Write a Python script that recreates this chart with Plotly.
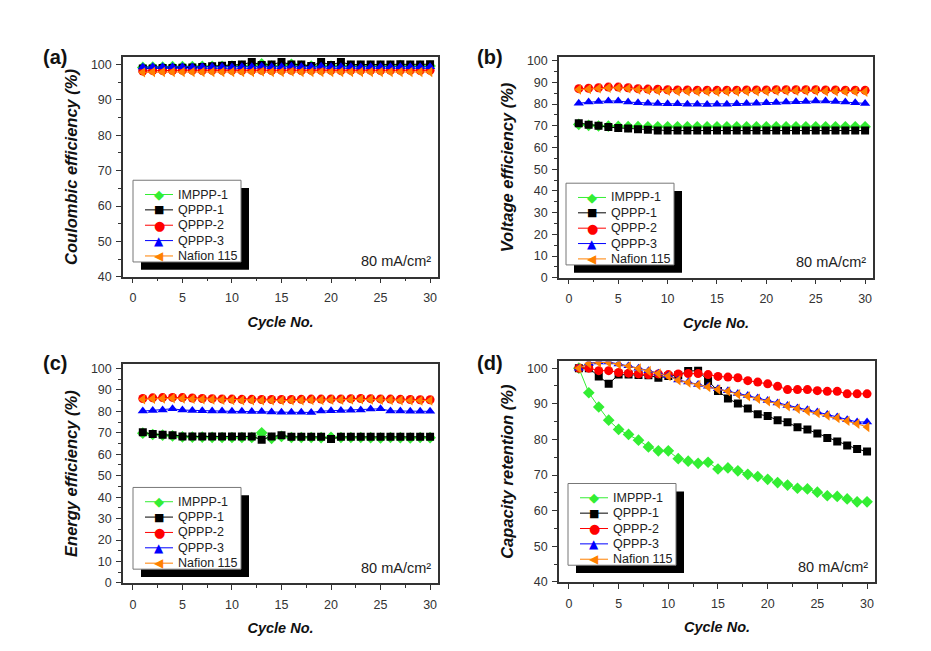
import plotly.graph_objects as go

cycles = list(range(1, 31))
series_names = ["IMPPP-1", "QPPP-1", "QPPP-2", "QPPP-3", "Nafion 115"]

# (a) Coulombic efficiency (%)
ce_imppp1 = [99.2, 99.3, 99.3, 99.4, 99.4, 99.4, 99.5, 99.5, 99.5, 99.6, 99.6, 99.6, 100.2, 99.6, 99.6,
             100.1, 99.6, 99.6, 99.6, 99.6, 99.6, 99.6, 99.6, 99.6, 99.6, 99.6, 99.7, 99.6, 99.6, 99.6]
ce_qppp1 = [98.9, 98.9, 99.0, 99.0, 99.1, 99.2, 99.3, 99.5, 99.7, 99.9, 100.0, 100.7, 99.9, 100.0, 100.7,
            100.0, 100.0, 99.6, 100.7, 99.9, 100.7, 100.0, 100.0, 100.0, 100.0, 100.0, 100.1, 100.0, 100.0, 100.1]
ce_qppp2 = [98.2, 98.3, 98.3, 98.3, 98.4, 98.4, 98.3, 98.4, 98.4, 98.4, 98.3, 98.4, 98.4, 98.3, 98.4,
            98.4, 98.3, 98.4, 98.4, 98.4, 98.3, 98.4, 98.4, 98.4, 98.3, 98.4, 98.4, 98.4, 98.3, 98.4]
ce_qppp3 = [99.3, 99.4, 99.4, 99.4, 99.4, 99.3, 99.4, 99.4, 99.4, 99.3, 99.4, 99.4, 99.5, 99.4, 99.4,
            99.5, 99.4, 99.4, 99.5, 99.4, 99.4, 99.4, 99.3, 99.4, 99.4, 99.4, 99.4, 99.4, 99.4, 99.4]
ce_nafion = [97.8, 97.9, 97.9, 97.9, 97.9, 97.9, 97.9, 97.9, 97.9, 97.9, 97.9, 97.9, 98.0, 97.9, 97.9,
             98.0, 97.9, 97.9, 97.9, 97.9, 97.9, 97.9, 97.9, 97.9, 97.9, 97.9, 97.9, 97.9, 97.9, 97.9]

# (b) Voltage efficiency (%)
ve_imppp1 = [70.6, 70.2, 69.9, 69.8, 69.7, 69.6, 69.6, 69.5, 69.5, 69.5, 69.5, 69.5, 69.5, 69.5, 69.5,
             69.5, 69.5, 69.5, 69.5, 69.5, 69.5, 69.5, 69.5, 69.5, 69.5, 69.5, 69.5, 69.5, 69.5, 69.5]
ve_qppp1 = [71.2, 70.5, 70.0, 69.4, 69.0, 68.7, 68.4, 68.2, 67.8, 67.8, 67.8, 67.8, 67.8, 67.8, 67.8,
            67.8, 67.8, 67.8, 67.8, 67.8, 67.8, 67.8, 67.8, 67.8, 67.8, 67.8, 67.8, 67.8, 67.8, 67.8]
ve_qppp2 = [87.1, 87.3, 87.5, 87.8, 87.8, 87.5, 87.1, 86.9, 86.8, 86.6, 86.5, 86.5, 86.4, 86.4, 86.3,
            86.4, 86.4, 86.5, 86.5, 86.5, 86.6, 86.6, 86.6, 86.6, 86.6, 86.5, 86.5, 86.4, 86.4, 86.3]
ve_qppp3 = [80.4, 80.9, 81.2, 81.4, 81.4, 80.9, 80.6, 80.4, 80.3, 80.1, 80.1, 79.9, 79.9, 79.8, 79.9,
            79.9, 80.1, 80.3, 80.4, 80.6, 80.7, 80.9, 81.1, 81.2, 81.4, 81.4, 81.2, 80.9, 80.6, 80.3]
ve_nafion = [86.7, 86.9, 87.2, 87.5, 87.5, 87.2, 86.7, 86.4, 86.2, 86.1, 85.9, 85.9, 85.8, 85.8, 85.7,
             85.8, 85.8, 85.9, 85.9, 85.9, 86.1, 86.1, 86.1, 86.1, 86.1, 85.9, 85.9, 85.8, 85.8, 85.7]

# (c) Energy efficiency (%)
ee_imppp1 = [69.8, 69.2, 68.9, 68.6, 68.1, 68.0, 68.0, 67.9, 67.8, 67.8, 67.8, 67.8, 70.0, 67.4, 68.3,
             67.8, 67.8, 67.8, 67.7, 67.9, 67.8, 67.8, 67.8, 67.7, 67.6, 67.8, 67.7, 67.6, 67.8, 67.7]
ee_qppp1 = [70.2, 69.4, 69.1, 68.8, 68.3, 68.3, 68.3, 68.3, 68.3, 68.3, 68.3, 68.3, 66.8, 68.3, 68.8,
            68.1, 68.1, 68.1, 68.1, 67.1, 68.1, 68.1, 68.1, 68.1, 68.1, 68.1, 68.1, 68.1, 68.1, 68.1]
ee_qppp2 = [86.0, 86.3, 86.4, 86.5, 86.4, 86.2, 86.0, 85.9, 85.8, 85.7, 85.6, 85.6, 85.5, 85.5, 85.5,
            85.5, 85.6, 85.7, 85.7, 85.8, 85.8, 85.9, 86.0, 85.9, 85.8, 85.7, 85.6, 85.5, 85.4, 85.4]
ee_qppp3 = [80.1, 80.4, 80.6, 81.2, 80.6, 80.4, 80.3, 80.2, 80.1, 80.0, 80.0, 79.9, 79.9, 79.7, 79.6,
            79.6, 79.6, 79.5, 80.1, 80.3, 80.4, 80.5, 80.6, 81.1, 81.2, 80.2, 80.1, 80.0, 80.0, 80.0]
ee_nafion = [85.6, 85.9, 86.0, 86.1, 86.0, 85.8, 85.6, 85.5, 85.4, 85.3, 85.2, 85.2, 85.1, 85.1, 85.1,
             85.1, 85.2, 85.3, 85.3, 85.4, 85.4, 85.5, 85.6, 85.5, 85.4, 85.3, 85.2, 85.1, 85.0, 85.0]

# (d) Capacity retention (%)
cr_imppp1 = [100.0, 93.1, 89.1, 85.4, 82.8, 81.4, 79.8, 77.9, 76.8, 76.8, 74.6, 73.9, 73.3, 73.6, 71.7,
             72.0, 71.2, 70.2, 69.6, 68.8, 67.9, 67.2, 66.3, 66.1, 65.2, 64.2, 64.0, 63.3, 62.5, 62.5]
cr_qppp1 = [100.0, 100.0, 97.7, 95.6, 98.2, 98.2, 98.1, 98.0, 97.3, 97.8, 98.0, 99.2, 99.3, 96.4, 93.6,
            91.5, 90.1, 88.7, 87.1, 86.6, 85.4, 84.8, 83.4, 82.8, 81.7, 80.4, 79.4, 78.3, 77.3, 76.6]
cr_qppp2 = [100.0, 100.0, 99.3, 99.3, 98.8, 98.6, 98.4, 98.2, 98.4, 98.2, 98.4, 98.5, 98.5, 98.2, 97.7,
            97.5, 97.3, 96.5, 96.1, 95.6, 94.9, 94.0, 94.0, 94.0, 93.7, 93.5, 93.5, 92.8, 92.8, 92.8]
cr_qppp3 = [100.0, 101.4, 101.7, 101.7, 101.2, 100.7, 100.0, 99.3, 98.6, 97.9, 96.7, 96.1, 95.4, 94.9, 94.2,
            93.7, 92.9, 92.3, 91.6, 90.9, 90.2, 89.5, 88.8, 88.3, 87.7, 87.0, 86.3, 85.5, 84.9, 84.9]
cr_nafion = [100.0, 101.3, 101.6, 101.6, 101.1, 100.6, 99.9, 99.2, 98.5, 97.8, 96.6, 96.0, 95.3, 94.7, 94.0,
             93.5, 92.7, 92.1, 91.4, 90.7, 90.0, 89.3, 88.6, 88.0, 87.4, 86.7, 86.0, 85.2, 84.4, 83.5]

panels = [
    {"data": [ce_imppp1, ce_qppp1, ce_qppp2, ce_qppp3, ce_nafion], "title": "Coulombic efficiency (%)",
     "yrange": [40, 102.1], "label": "(a)"},
    {"data": [ve_imppp1, ve_qppp1, ve_qppp2, ve_qppp3, ve_nafion], "title": "Voltage efficiency (%)",
     "yrange": [0, 101.6], "label": "(b)"},
    {"data": [ee_imppp1, ee_qppp1, ee_qppp2, ee_qppp3, ee_nafion], "title": "Energy efficiency (%)",
     "yrange": [0, 101.9], "label": "(c)"},
    {"data": [cr_imppp1, cr_qppp1, cr_qppp2, cr_qppp3, cr_nafion], "title": "Capacity retention (%)",
     "yrange": [40, 101.9], "label": "(d)"},
]

colors = ["#33ee33", "#000000", "#ff0000", "#0000ff", "#ff8000"]
symbols = ["diamond", "square", "circle", "triangle-up", "triangle-left"]
msizes = [9, 8, 9, 9, 9]
legend_glyphs = ["◆", "■", "●", "▲", "◀"]
glyph_sizes = [13, 11, 13, 12, 12]

W, H = 931, 651
# pixel boxes (left, right, top, bottom)
boxes = [(123, 438, 55, 278), (559, 873, 55, 279), (123, 438, 367, 589), (559, 875, 364, 588)]
legend_pos = [(133, 180), (566, 183), (133, 492), (568, 488)]
label_pos = [(55, 55), (490, 55), (55, 366), (490, 366)]

FONT = "Liberation Sans, Arial, sans-serif"
fig = go.Figure()
layout = {}
shapes = []
annotations = []


def px(x):
    return x / W


def py(y):
    return 1 - y / H


for i, p in enumerate(panels):
    n = "" if i == 0 else str(i + 1)
    for k in range(5):
        fig.add_trace(go.Scatter(
            x=cycles, y=p["data"][k], name=series_names[k], mode="lines+markers",
            line=dict(color=colors[k], width=1),
            marker=dict(symbol=symbols[k], size=msizes[k], color=colors[k]),
            xaxis="x" + n, yaxis="y" + n, showlegend=False))
    l, r, t, b = boxes[i]
    axcommon = dict(showline=True, mirror=True, linecolor="#333", linewidth=1.5,
                    ticks="outside", ticklen=5, tickwidth=1.2, tickcolor="#333",
                    showgrid=False, zeroline=False,
                    tickfont=dict(family=FONT, size=12.5, color="#333"))
    layout["xaxis" + n] = dict(axcommon, domain=[px(l), px(r)], range=[-1, 30.8],
                               tick0=0, dtick=5, anchor="y" + n, ticklabelstandoff=4,
                               minor=dict(ticks="outside", ticklen=3, dtick=2.5, tickcolor="#333", tickwidth=1),
                               title=dict(text="Cycle No.", standoff=12,
                                          font=dict(family=FONT, size=14.5, color="#111", weight="bold", style="italic")))
    layout["yaxis" + n] = dict(axcommon, domain=[py(b), py(t)], range=p["yrange"],
                               tick0=0, dtick=10, anchor="x" + n, ticklabelstandoff=2,
                               minor=dict(ticks="outside", ticklen=3, dtick=5, tickcolor="#333", tickwidth=1),
                               title=dict(text=p["title"], standoff=9,
                                          font=dict(family=FONT, size=16.5, color="#111", weight="bold", style="italic")))

    # legend box with drop shadow
    lx, ly = legend_pos[i]
    bw, bh = 108, 83
    shapes.append(dict(type="rect", xref="paper", yref="paper", layer="above",
                       x0=px(lx + 8), x1=px(lx + 8 + bw), y0=py(ly + 8 + bh), y1=py(ly + 8),
                       fillcolor="black", line=dict(width=0)))
    shapes.append(dict(type="rect", xref="paper", yref="paper", layer="above",
                       x0=px(lx), x1=px(lx + bw), y0=py(ly + bh), y1=py(ly),
                       fillcolor="white", line=dict(width=1, color="#777")))
    for k in range(5):
        cy = ly + 14.5 + k * 15.6
        shapes.append(dict(type="line", xref="paper", yref="paper", layer="above",
                           x0=px(lx + 12), x1=px(lx + 40), y0=py(cy), y1=py(cy),
                           line=dict(width=1, color=colors[k])))
        annotations.append(dict(text=legend_glyphs[k], xref="paper", yref="paper",
                                x=px(lx + 26), y=py(cy), xanchor="center", yanchor="middle",
                                showarrow=False,
                                font=dict(family="DejaVu Sans", size=glyph_sizes[k], color=colors[k])))
        annotations.append(dict(text=series_names[k], xref="paper", yref="paper",
                                x=px(lx + 43), y=py(cy), xanchor="left", yanchor="middle",
                                showarrow=False,
                                font=dict(family=FONT, size=12.5, color="#222")))

    annotations.append(dict(text="80 mA/cm²", xref="x" + n + " domain", yref="y" + n + " domain",
                            x=0.985, y=0.07, xanchor="right", yanchor="middle", showarrow=False,
                            font=dict(family=FONT, size=14.5, color="#222")))
    cx, cy = label_pos[i]
    annotations.append(dict(text=p["label"], xref="paper", yref="paper",
                            x=px(cx), y=py(cy), xanchor="center", yanchor="middle", showarrow=False,
                            font=dict(family=FONT, size=20, color="#111", weight="bold")))

fig.update_layout(width=W, height=H, margin=dict(l=0, r=0, t=0, b=0),
                  paper_bgcolor="white", plot_bgcolor="white", showlegend=False,
                  shapes=shapes, annotations=annotations, **layout)
fig.write_html("out.html")
